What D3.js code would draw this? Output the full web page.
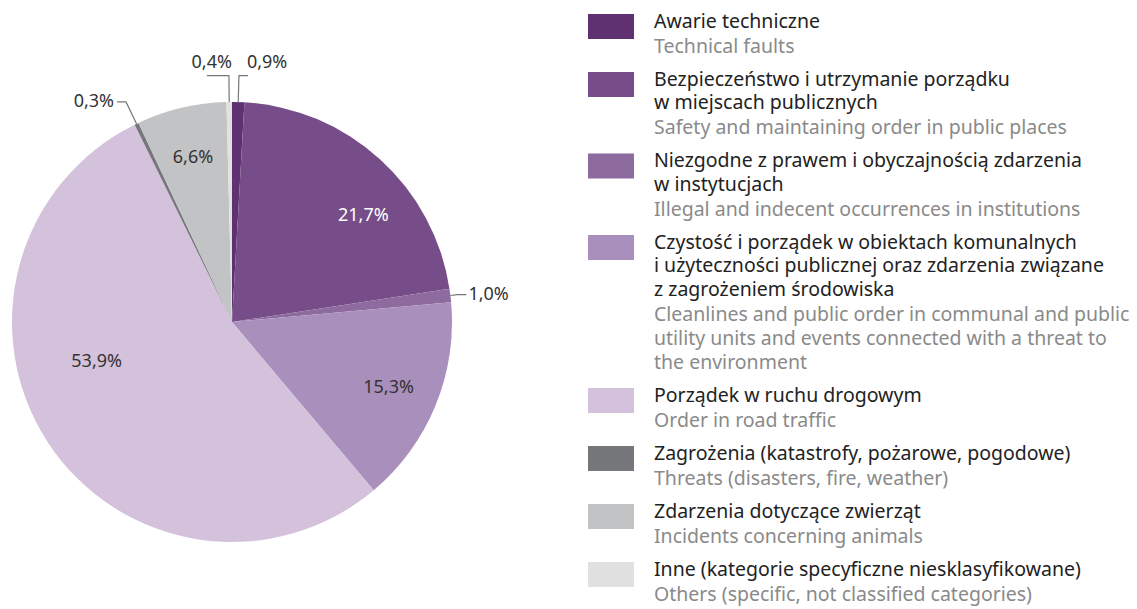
<!DOCTYPE html>
<html>
<head>
<meta charset="utf-8">
<script src="https://cdn.jsdelivr.net/npm/d3@7"></script>
<style>
  body { margin: 0; background: #fff; }
  svg text { font-family: "Noto Sans", "Open Sans", sans-serif; }
</style>
</head>
<body>
<script>
// categories in drawing order, clockwise from 12 o'clock
var labelsPl = [
  ['Awarie techniczne'],
  ['Bezpieczeństwo i utrzymanie porządku', 'w miejscach publicznych'],
  ['Niezgodne z prawem i obyczajnością zdarzenia', 'w instytucjach'],
  ['Czystość i porządek w obiektach komunalnych', 'i użyteczności publicznej oraz zdarzenia związane', 'z zagrożeniem środowiska'],
  ['Porządek w ruchu drogowym'],
  ['Zagrożenia (katastrofy, pożarowe, pogodowe)'],
  ['Zdarzenia dotyczące zwierząt'],
  ['Inne (kategorie specyficzne niesklasyfikowane)']
];
var labelsEn = [
  ['Technical faults'],
  ['Safety and maintaining order in public places'],
  ['Illegal and indecent occurrences in institutions'],
  ['Cleanlines and public order in communal and public', 'utility units and events connected with a threat to', 'the environment'],
  ['Order in road traffic'],
  ['Threats (disasters, fire, weather)'],
  ['Incidents concerning animals'],
  ['Others (specific, not classified categories)']
];
var shares = [0.9, 21.7, 1.0, 15.3, 53.9, 0.3, 6.6, 0.4];
var colors = ['#5f3170', '#764d88', '#8e6b9e', '#a98fbb', '#d4c1db', '#76777a', '#c2c3c5', '#e1e1e1'];

var w = 1137, h = 609;
var cx = 232, cy = 322, r = 220;

var svg = d3.select('body').append('svg')
  .attr('width', w)
  .attr('height', h);

var fmt = function(v) { return v.toFixed(1).replace('.', ',') + '%'; };

var pie = d3.pie().sort(null).value(function(d) { return d; });
var arcs = pie(shares);
var arc = d3.arc().innerRadius(0).outerRadius(r);

var g = svg.append('g').attr('transform', 'translate(' + cx + ',' + cy + ')');

g.selectAll('path')
  .data(arcs)
  .enter()
  .append('path')
    .attr('d', arc)
    .attr('fill', function(d, i) { return colors[i]; });

// labels inside big slices
var inner = arcs.filter(function(d) { return d.value > 5; });
// nudge a couple of labels the way the original layout has them
var nudge = { 1: 0.15, 4: 0.3 };
function inPos(d) {
  var a = (d.startAngle + d.endAngle) / 2 + (nudge[d.index] || 0);
  var k = d.value > 40 ? 0.64 : 0.77;
  return [Math.sin(a) * r * k, -Math.cos(a) * r * k];
}
g.selectAll('text.in')
  .data(inner)
  .enter()
  .append('text')
    .attr('class', 'in')
    .attr('text-anchor', 'middle')
    .attr('dy', '0.35em')
    .attr('font-size', '18px')
    .attr('x', function(d) { return inPos(d)[0]; })
    .attr('y', function(d) { return inPos(d)[1]; })
    .attr('fill', function(d) { return d.index === 1 ? '#fff' : '#333'; })
    .text(function(d) { return fmt(d.value); });

// small slices: leader lines and outside labels
var outer = arcs.filter(function(d) { return d.value <= 5; });
outer.forEach(function(d) {
  var a = (d.startAngle + d.endAngle) / 2;
  var sx = Math.sin(a), sy = -Math.cos(a);
  var top = Math.abs(sy) > 0.95;
  var k = 1.02 + 0.1 * Math.abs(sy);
  var right = sx >= 0;
  var p1 = [sx * r, sy * r];
  var p2 = [sx * r * k, sy * r * k];
  var p3 = [p2[0] + (right ? 9 : -(top ? 22 : 9)), p2[1]];
  g.append('polyline')
    .attr('points', [p1, p2, p3].map(function(p) { return p.join(','); }).join(' '))
    .attr('fill', 'none')
    .attr('stroke', '#777')
    .attr('stroke-width', 1.2);
  var t = g.append('text')
    .attr('font-size', '18px')
    .attr('fill', '#333')
    .attr('dy', '0.35em')
    .attr('text-anchor', right ? 'start' : 'end')
    .text(fmt(d.value));
  if (top) {
    t.attr('x', right ? p3[0] - 1 : p2[0] + 3)
      .attr('y', p2[1] - 14);
  } else {
    t.attr('x', p3[0] + (right ? 2 : -3))
      .attr('y', p3[1] - 1);
  }
});

// legend
var plLine = 23.5, enGap = 25, enLine = 24, itemGap = 33;
var legendTops = [];
var y = 21;
labelsPl.forEach(function(pl, i) {
  legendTops.push(y);
  y += (pl.length - 1) * plLine + enGap + (labelsEn[i].length - 1) * enLine + itemGap;
});

var item = svg.append('g').selectAll('g')
  .data(labelsPl)
  .enter()
  .append('g')
    .attr('transform', function(d, i) { return 'translate(588,' + legendTops[i] + ')'; });

item.append('rect')
  .attr('x', 0)
  .attr('y', -7)
  .attr('width', 46)
  .attr('height', 25)
  .attr('fill', function(d, i) { return colors[i]; });

item.each(function(pl, i) {
  var el = d3.select(this);
  pl.forEach(function(line, j) {
    el.append('text')
      .attr('x', 66)
      .attr('y', j * plLine)
      .attr('dy', '0.35em')
      .attr('font-size', '19.5px')
      .attr('fill', '#222')
      .text(line);
  });
  var base = (pl.length - 1) * plLine + enGap;
  labelsEn[i].forEach(function(line, j) {
    el.append('text')
      .attr('x', 66)
      .attr('y', base + j * enLine)
      .attr('dy', '0.35em')
      .attr('font-size', '19.5px')
      .attr('fill', '#8a8a8a')
      .text(line);
  });
});
</script>
</body>
</html>
